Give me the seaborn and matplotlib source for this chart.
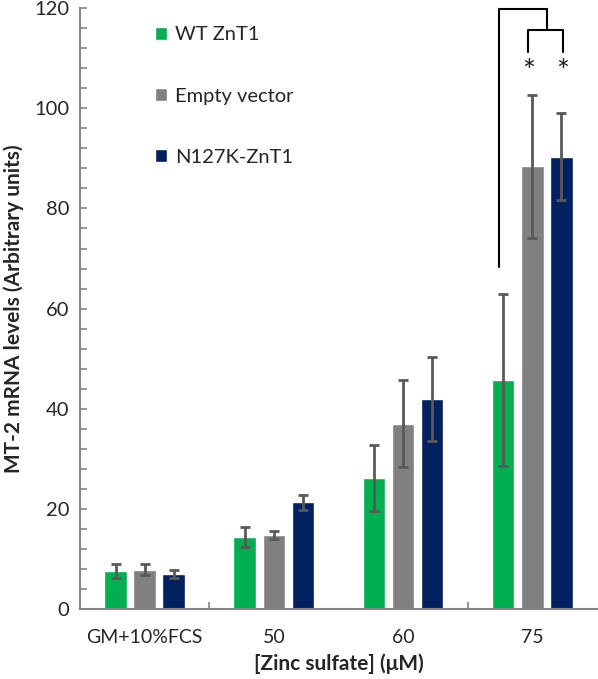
import pandas as pd
import numpy as np
import matplotlib
matplotlib.use('Agg')
import matplotlib.pyplot as plt
import seaborn as sns
from matplotlib.ticker import MultipleLocator, FixedLocator

# ── DATA ────────────────────────────────────────────────────
conditions = ['GM+10%FCS', '50', '60', '75']
groups = ['WT ZnT1', 'Empty vector', 'N127K-ZnT1']
wt_mean = [7.6, 14.4, 26.1, 45.8]
wt_err = [1.3, 2.0, 6.6, 17.2]
ev_mean = [7.9, 14.8, 37.0, 88.4]
ev_err = [1.0, 0.8, 8.7, 14.3]
n127_mean = [7.1, 21.3, 41.9, 90.3]
n127_err = [0.8, 1.5, 8.4, 8.7]
colors = ['#00B050', '#808080', '#002060']

df = pd.DataFrame({
    'cond': conditions * 3,
    'group': [g for g in groups for _ in conditions],
    'value': wt_mean + ev_mean + n127_mean,
})
errs = [wt_err, ev_err, n127_err]
means = [wt_mean, ev_mean, n127_mean]

# ── PLOT ────────────────────────────────────────────────────
sns.set_style('white')
plt.rcParams['font.family'] = ['Lato', 'DejaVu Sans']

fig = plt.figure(figsize=(5.98, 6.79), dpi=100)
ax = fig.add_axes([0.134, 0.103, 0.864, 0.885])

sns.barplot(data=df, x='cond', y='value', hue='group', order=conditions,
            hue_order=groups, palette=colors, width=0.675, gap=0.22,
            saturation=1, errorbar=None, ax=ax)

bar_conts = list(ax.containers)
centers = [[b.get_x() + b.get_width() / 2 for b in c] for c in bar_conts]
for xs, m, e in zip(centers, means, errs):
    ax.errorbar(xs, m, yerr=e, fmt='none', ecolor='#595959',
                elinewidth=2, capsize=3.5, capthick=2, zorder=3)

# significance brackets
xs75 = [c[3] for c in centers]
bk = dict(color='black', lw=1.5, clip_on=False, zorder=4)
ax.plot([xs75[0] - 0.03, xs75[0] - 0.03, 3.117], [68.3, 119.9, 119.9], **bk)
ax.plot([3.117, 3.117], [119.9, 115.6], **bk)
ax.plot([xs75[1] - 0.03, xs75[1] - 0.03, xs75[2] + 0.01, xs75[2] + 0.01],
        [111.2, 115.6, 115.6, 111.2], **bk)
for xx in [xs75[1] - 0.03, xs75[2] + 0.01]:
    ax.text(xx, 107.2, '*', ha='center', va='center', fontsize=22,
            color='#222222')

ax.set_ylim(0, 120)
ax.set_xlim(-0.5, 3.5)
ax.yaxis.set_major_locator(MultipleLocator(20))
ax.yaxis.set_minor_locator(MultipleLocator(4))
ax.tick_params(axis='y', which='both', direction='in', length=5,
               width=1.2, color='#868686', labelsize=14.5, pad=8,
               left=True)
ax.xaxis.set_minor_locator(FixedLocator([0.5, 2.5]))
ax.tick_params(axis='x', which='major', length=0, labelsize=14, pad=14)
ax.tick_params(axis='x', which='minor', direction='in', length=5,
               width=1.2, color='#868686', bottom=True)

for s in ['top', 'right']:
    ax.spines[s].set_visible(False)
for s in ['left', 'bottom']:
    ax.spines[s].set_color('#868686')
    ax.spines[s].set_linewidth(1.5)

ax.set_xlabel('[Zinc sulfate] (\u03bcM)', fontsize=15, fontweight='bold',
              labelpad=6)
ax.set_ylabel('MT-2 mRNA levels (Arbitrary units)', fontsize=15,
              fontweight='bold', labelpad=7)

h, l = ax.get_legend_handles_labels()
ax.legend(h, l, loc='upper left', bbox_to_anchor=(0.11, 1.0),
          frameon=False, fontsize=14.5, handlelength=0.6, handleheight=0.6,
          handletextpad=0.4, labelspacing=2.2)

plt.savefig('out.png', dpi=100)
plt.close()
